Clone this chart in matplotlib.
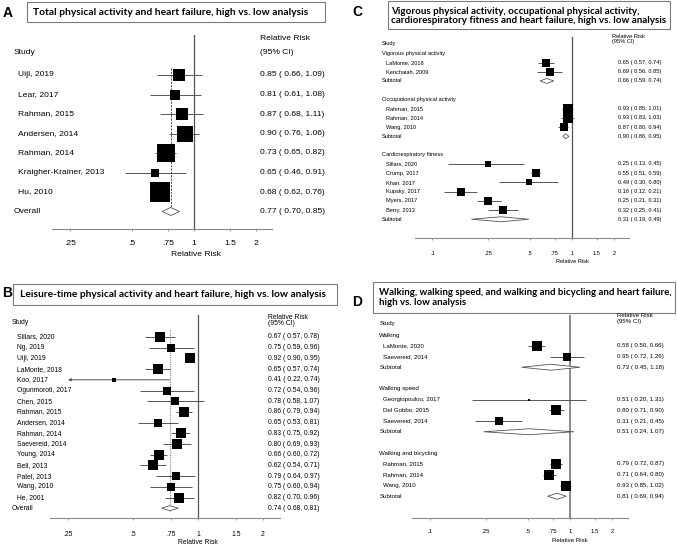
import numpy as np
import matplotlib
matplotlib.use('Agg')
import matplotlib.pyplot as plt
from matplotlib import transforms as mtrans
from matplotlib.patches import Rectangle
from matplotlib.ticker import NullLocator

# ---------------- data ----------------
A_studies = ["Uijl, 2019", "Lear, 2017", "Rahman, 2015", "Andersen, 2014",
             "Rahman, 2014", "Kraigher-Krainer, 2013", "Hu, 2010"]
A_rr = [0.85, 0.81, 0.87, 0.90, 0.73, 0.65, 0.68]
A_lo = [0.66, 0.61, 0.68, 0.76, 0.65, 0.46, 0.62]
A_hi = [1.09, 1.08, 1.11, 1.06, 0.82, 0.91, 0.76]
A_w = [9.9, 8.2, 9.9, 17.8, 22.6, 5.5, 26.1]
A_overall = [0.77, 0.70, 0.85]

B_studies = ["Sillars, 2020", "Ng, 2019", "Uijl, 2019", "LaMonte, 2018", "Koo, 2017",
             "Ogunmoroti, 2017", "Chen, 2015", "Rahman, 2015", "Andersen, 2014",
             "Rahman, 2014", "Saevereid, 2014", "Young, 2014", "Bell, 2013",
             "Patel, 2013", "Wang, 2010", "He, 2001"]
B_rr = [0.67, 0.75, 0.92, 0.65, 0.41, 0.72, 0.78, 0.86, 0.65, 0.83, 0.80, 0.66, 0.62, 0.79, 0.75, 0.82]
B_lo = [0.57, 0.59, 0.90, 0.57, 0.22, 0.54, 0.58, 0.79, 0.53, 0.75, 0.69, 0.60, 0.54, 0.64, 0.60, 0.70]
B_hi = [0.78, 0.96, 0.95, 0.74, 0.74, 0.96, 1.07, 0.94, 0.81, 0.92, 0.93, 0.72, 0.71, 0.97, 0.94, 0.96]
B_w = [7.0, 5.5, 9.2, 7.0, 0.9, 4.7, 5.5, 7.0, 5.5, 6.5, 6.5, 8.0, 8.0, 5.5, 5.5, 7.6]
B_overall = [0.74, 0.68, 0.81]

C_groups = ["Vigorous physical activity", "Occupational physical activity",
            "Cardiorespiratory fitness"]
C_studies = [["LaMonte, 2018", "Kenchaiah, 2009"],
             ["Rahman, 2015", "Rahman, 2014", "Wang, 2010"],
             ["Sillars, 2020", "Crump, 2017", "Khan, 2017", "Kupsky, 2017",
              "Myers, 2017", "Berry, 2013"]]
C_rr = [[0.65, 0.69], [0.93, 0.93, 0.87], [0.25, 0.55, 0.49, 0.16, 0.25, 0.32]]
C_lo = [[0.57, 0.56], [0.85, 0.83, 0.80], [0.13, 0.51, 0.30, 0.12, 0.21, 0.25]]
C_hi = [[0.74, 0.85], [1.01, 1.03, 0.94], [0.45, 0.59, 0.80, 0.21, 0.31, 0.41]]
C_w = [[8.5, 8.5], [11.7, 11.7, 10.0], [6.5, 10.0, 5.2, 10.0, 9.3, 8.5]]
C_sub = [[0.66, 0.59, 0.74], [0.90, 0.86, 0.95], [0.31, 0.19, 0.49]]

D_groups = ["Walking", "Walking speed", "Walking and bicycling"]
D_studies = [["LaMonte, 2020", "Saevereid, 2014"],
             ["Georgiopoulou, 2017", "Del Gobbo, 2015", "Saevereid, 2014"],
             ["Rahman, 2015", "Rahman, 2014", "Wang, 2010"]]
D_rr = [[0.58, 0.95], [0.51, 0.80, 0.31], [0.79, 0.71, 0.93]]
D_lo = [[0.50, 0.72], [0.20, 0.71, 0.21], [0.72, 0.64, 0.85]]
D_hi = [[0.66, 1.26], [1.31, 0.90, 0.45], [0.87, 0.80, 1.02]]
D_w = [[17.5, 11.2], [1.1, 14.2, 8.6], [14.2, 17.5, 15.8]]
D_sub = [[0.73, 0.45, 1.18], [0.51, 0.24, 1.07], [0.81, 0.69, 0.94]]

ticks_AB = [0.25, 0.5, 0.75, 1, 1.5, 2]
ticklabels_AB = [".25", ".5", ".75", "1", "1.5", "2"]
ticks_CD = [0.1, 0.25, 0.5, 0.75, 1, 1.5, 2]
ticklabels_CD = [".1", ".25", ".5", ".75", "1", "1.5", "2"]

titles = {
    "A": "Total physical activity and heart failure, high vs. low analysis",
    "B": "Leisure-time physical activity and heart failure, high vs. low analysis",
    "C": "Vigorous physical activity, occupational physical activity,\ncardiorespiratory fitness and heart failure, high vs. low analysis",
    "D": "Walking, walking speed, and walking and bicycling and heart failure,\nhigh vs. low analysis",
}

# ---------------- figure ----------------
W, H = 677, 546
fig = plt.figure(figsize=(W / 100, H / 100), dpi=100)
fig.patch.set_facecolor('white')
P = mtrans.Affine2D().scale(1 / W, -1 / H).translate(0, 1) + fig.transFigure
BODY = 'Liberation Sans'
TFONT = 'Lato'
PX = 0.72  # points per pixel
renderer = fig.canvas.get_renderer()


def ptext(x, y, s, size, **kw):
    kw.setdefault('va', 'center')
    return fig.text(x, y, s, transform=P, fontsize=size, family=BODY, **kw)


def title_box(letter, box, tx, ty, target_w, ly, lx):
    x0, y0, x1, y1 = box
    fig.patches.append(Rectangle((x0, y1), x1 - x0, y0 - y1, transform=P,
                                 facecolor='white', edgecolor='#7a7a7a', lw=0.8))
    t = fig.text(tx, ty, titles[letter], transform=P, family=TFONT, weight='bold',
                 fontsize=7, va='center', ha='left', linespacing=1.05, color='black')
    w = t.get_window_extent(renderer).width
    t.set_fontsize(7 * target_w / w)
    fig.text(lx, ly, letter, transform=P, family=BODY, weight='bold', fontsize=10,
             va='center', ha='left')


def make_axes(x0, x1, ytop, yaxis, x_one, unit, y0, s, ticks, tlabels, fs, tick_center):
    ax = fig.add_axes([x0 / W, 1 - yaxis / H, (x1 - x0) / W, (yaxis - ytop) / H])
    ax.set_xscale('log', base=2)
    ax.set_xlim(2 ** ((x0 - x_one) / unit), 2 ** ((x1 - x_one) / unit))
    ax.set_ylim((yaxis - y0) / s, (ytop - y0) / s)
    ax.patch.set_alpha(0)
    for sp in ['top', 'right', 'left']:
        ax.spines[sp].set_visible(False)
    ax.spines['bottom'].set_color('#8a8a8a')
    ax.spines['bottom'].set_linewidth(0.8)
    ax.set_yticks([])
    ax.set_xticks(ticks)
    ax.set_xticklabels(tlabels, family=BODY, fontsize=fs)
    ax.xaxis.set_minor_locator(NullLocator())
    tl = 2.5
    th = fs / PX * 1.15
    pad = (tick_center - yaxis - tl - th / 2) * PX
    ax.tick_params(axis='x', length=tl * PX, width=0.6, color='#8a8a8a', pad=pad)
    T = mtrans.blended_transform_factory(P, ax.transData)
    return ax, T


def draw_study(ax, rr, lo, hi, w, y, k, lw=0.7, cimin=None):
    if cimin is not None and lo < cimin:
        ax.annotate('', xy=(cimin, y), xytext=(hi, y),
                    arrowprops=dict(arrowstyle='-|>', color='#555555', lw=lw,
                                    mutation_scale=4, shrinkA=0, shrinkB=0))
    else:
        ax.plot([lo, hi], [y, y], color='#555555', lw=lw, zorder=2,
                solid_capstyle='butt')
    side = k * np.sqrt(w) * PX
    ax.scatter([rr], [y], marker='s', s=side ** 2, color='black', linewidths=0, zorder=3)


def diamond(ax, est, y, hh):
    rr, lo, hi = est
    ax.fill([lo, rr, hi, rr], [y, y - hh, y, y + hh], facecolor='white',
            edgecolor='#555555', lw=0.6, zorder=3)


def fmt(rr, lo, hi):
    return f"{rr:.2f} ( {lo:.2f}, {hi:.2f})"


# ---------------- Panel A ----------------
title_box("A", (27, 2, 325, 22), 33, 12.5, 277, 13, 3)
fsA = 6.1
axA, TA = make_axes(52, 272, 35, 229, 194, 62, 75, 19.5, ticks_AB, ticklabels_AB, fsA, 245)
axA.axvline(1, color='#555555', lw=0.9, zorder=1)
for i, (st, rr, lo, hi, w) in enumerate(zip(A_studies, A_rr, A_lo, A_hi, A_w)):
    draw_study(axA, rr, lo, hi, w, i, 3.72)
    axA.text(18, i, st, transform=TA, family=BODY, fontsize=fsA, va='center')
    axA.text(260, i, fmt(rr, lo, hi), transform=TA, family=BODY, fontsize=fsA, va='center')
nA = len(A_studies)
diamond(axA, A_overall, nA, 4 / 19.5)
axA.plot([A_overall[0]] * 2, [-0.35, nA + 0.2], ls=(0, (2.5, 1.5)), color='#333333', lw=0.6, zorder=1)
axA.text(14, nA, "Overall", transform=TA, family=BODY, fontsize=fsA, va='center')
axA.text(260, nA, fmt(*A_overall), transform=TA, family=BODY, fontsize=fsA, va='center')
ptext(14, 52, "Study", fsA)
ptext(260, 39, "Relative Risk", fsA)
ptext(260, 52, "(95% CI)", fsA)
ptext(196, 255, "Relative Risk", fsA, ha='center')

# ---------------- Panel B ----------------
title_box("B", (13, 284, 337, 305), 20, 294.5, 308, 293, 2)
fsB = 4.9
axB, TB = make_axes(50, 280, 315, 518, 198, 65, 337, 10.7, ticks_AB, ticklabels_AB, fsB, 535)
axB.axvline(1, color='#555555', lw=0.9, zorder=1)
for i, (st, rr, lo, hi, w) in enumerate(zip(B_studies, B_rr, B_lo, B_hi, B_w)):
    draw_study(axB, rr, lo, hi, w, i, 3.54, lw=0.7, cimin=ticks_AB[0])
    axB.text(17, i, st, transform=TB, family=BODY, fontsize=fsB, va='center')
    axB.text(268, i, fmt(rr, lo, hi), transform=TB, family=BODY, fontsize=fsB, va='center')
nB = len(B_studies)
diamond(axB, B_overall, nB, 2.5 / 10.7)
axB.plot([B_overall[0]] * 2, [-0.7, nB + 0.3], ls=(0, (1, 1)), color='#888888', lw=0.8, zorder=1)
axB.text(12, nB, "Overall", transform=TB, family=BODY, fontsize=fsB, va='center')
axB.text(268, nB, fmt(*B_overall), transform=TB, family=BODY, fontsize=fsB, va='center')
ptext(12, 323, "Study", fsB)
ptext(268, 317.5, "Relative Risk", fsB)
ptext(268, 323.5, "(95% CI)", fsB)
ptext(198, 543, "Relative Risk", fsB, ha='center')


# ---------------- grouped panels ----------------
def grouped(ax, T, groups, studies, rr_l, lo_l, hi_l, w_l, subs, k, fs, xg, xs, xv, hh, s):
    row = 0
    for g, sts, rrs, los, his, ws, sub in zip(groups, studies, rr_l, lo_l, hi_l, w_l, subs):
        ax.text(xg, row, g, transform=T, family=BODY, fontsize=fs, va='center')
        row += 1
        for st, rr, lo, hi, w in zip(sts, rrs, los, his, ws):
            draw_study(ax, rr, lo, hi, w, row, k, lw=0.7)
            ax.text(xs, row, st, transform=T, family=BODY, fontsize=fs, va='center')
            ax.text(xv, row, fmt(rr, lo, hi), transform=T, family=BODY, fontsize=fs, va='center')
            row += 1
        diamond(ax, sub, row, hh / s)
        ax.text(xg, row, "Subtotal", transform=T, family=BODY, fontsize=fs, va='center')
        ax.text(xv, row, fmt(*sub), transform=T, family=BODY, fontsize=fs, va='center')
        row += 2


# Panel C
title_box("C", (388, 1, 670, 29), 391, 16, 278, 12, 352)
fsC = 4.1
axC, TC = make_axes(415, 629, 37, 237.7, 572, 42, 53.3, 9.22, ticks_CD, ticklabels_CD, fsC, 254)
axC.axvline(1, color='#555555', lw=0.9, zorder=1)
grouped(axC, TC, C_groups, C_studies, C_rr, C_lo, C_hi, C_w, C_sub, 2.64, fsC, 382, 385.5, 617.7, 2.5, 9.22)
ptext(382, 43.3, "Study", fsC)
ptext(611.7, 36.5, "Relative Risk", fsC)
ptext(611.7, 41.5, "(95% CI)", fsC)
ptext(572, 261.7, "Relative Risk", fsC, ha='center')

# Panel D
title_box("D", (373, 282, 675, 313), 379, 297.5, 294, 302, 352)
fsD = 4.45
axD, TD = make_axes(411.7, 628.3, 315, 518.3, 570, 42, 335, 10.75, ticks_CD, ticklabels_CD, fsD, 533)
axD.axvline(1, color='#777777', lw=1.2, zorder=1)
grouped(axD, TD, D_groups, D_studies, D_rr, D_lo, D_hi, D_w, D_sub, 2.39, fsD, 379.3, 382.7, 616.7, 3, 10.75)
ptext(379.3, 323.3, "Study", fsD)
ptext(616.7, 315.5, "Relative Risk", fsD)
ptext(616.7, 321, "(95% CI)", fsD)
ptext(570, 540, "Relative Risk", fsD, ha='center')

fig.savefig('out.png', dpi=100, facecolor='white')
